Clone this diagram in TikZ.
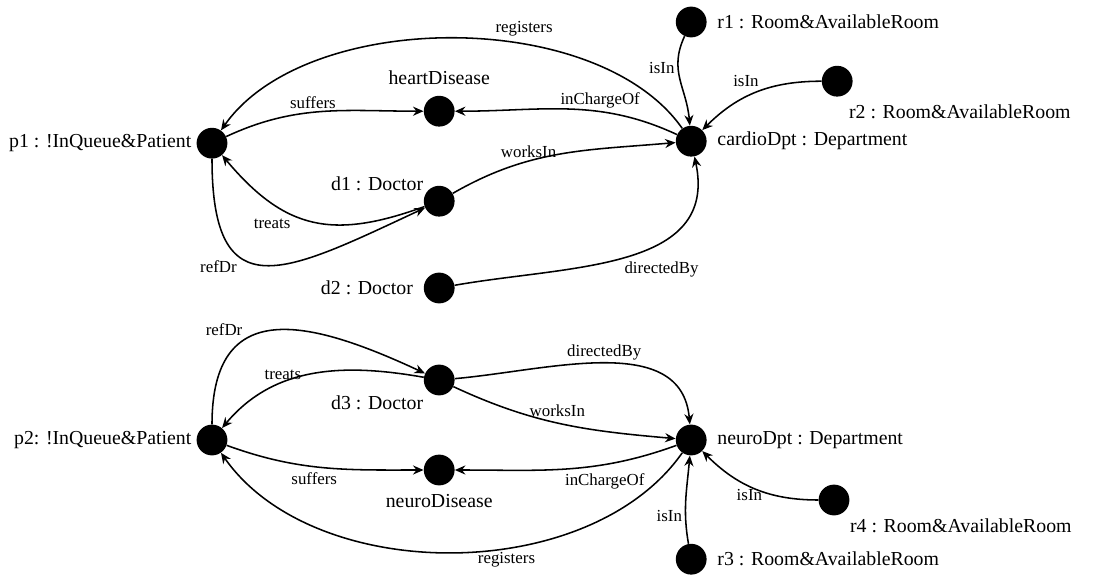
\documentclass[tikz,border=0pt]{standalone}
\usepackage{fontspec}
\setmainfont{Liberation Serif}
\usetikzlibrary{arrows.meta, positioning}

\begin{document}
\begin{tikzpicture}[
    every node/.style={font=\fontsize{14.1}{17}\selectfont},
    obj/.style={circle, fill=black, minimum size=0.77cm, inner sep=0pt},
    arr/.style={-{Stealth[length=7.5pt, width=6.5pt, inset=2.5pt]}, line width=1.1pt},
    arrlbl/.style={font=\fontsize{12}{14}\selectfont, inner sep=2pt}
]
\useasboundingbox (0,0) rectangle (27.5,-14.375);

% cardiology instance
\node[obj, label=left:{p1 : !InQueue\&Patient}] (p1) at (5.30, -3.58) {};
\node[obj, label={[label distance=4pt]above:heartDisease}] (heart) at (10.98, -2.78) {};
\node[obj, label={[yshift=-4pt]above left:d1 : Doctor}] (d1) at (10.98, -5.03) {};
\node[obj, label={[label distance=4pt]left:d2 : Doctor}] (d2) at (10.98, -7.20) {};
\node[obj, label={[label distance=4pt]right:cardioDpt : Department}] (cardio) at (17.28, -3.53) {};
\node[obj, label={[label distance=4pt]right:r1 : Room\&AvailableRoom}] (r1) at (17.28, -0.55) {};
\node[obj, label={[xshift=-3pt, yshift=-5pt]below right:r2 : Room\&AvailableRoom}] (r2) at (20.93, -2.03) {};

\draw[arr] (cardio) to[out=125, in=55, looseness=0.82] node[arrlbl, above, pos=0.37, yshift=3pt] {registers} (p1);
\draw[arr] (p1) to[out=25, in=180] node[arrlbl, above, pos=0.45] {suffers} (heart);
\draw[arr] (cardio) to[out=155, in=0] node[arrlbl, above, pos=0.35] {inChargeOf} (heart);
\draw[arr] (d1) to[out=30, in=185] node[arrlbl, above, pos=0.35] {worksIn} (cardio);
\draw[arr] (d1) to[out=200, in=-50, looseness=1.2] node[arrlbl, below left, pos=0.6] {treats} (p1);
\draw[arr] (p1) to[out=-90, in=205, looseness=1.8] node[arrlbl, below left, pos=0.36] {refDr} (d1);
\draw[arr] (d2) to[out=10, in=-78, looseness=1.1] node[arrlbl, below right, pos=0.48] {directedBy} (cardio);
\draw[arr] (r1) to[out=-115, in=95, looseness=1.1] node[arrlbl, left, pos=0.35] {isIn} (cardio);
\draw[arr] (r2) to[out=180, in=45] node[arrlbl, above left, pos=0.45] {isIn} (cardio);

% neurology instance
\node[obj, label=left:{p2: !InQueue\&Patient}] (p2) at (5.30, -11.00) {};
\node[obj, label=below left:d3 : Doctor] (d3) at (10.98, -9.50) {};
\node[obj, label={[label distance=3pt]below:neuroDisease}] (neurodis) at (10.98, -11.75) {};
\node[obj, label={[label distance=4pt]right:neuroDpt : Department}] (neuro) at (17.28, -11.00) {};
\node[obj, label={[label distance=4pt]right:r3 : Room\&AvailableRoom}] (r3) at (17.28, -13.98) {};
\node[obj, label={[yshift=-2pt]below right:r4 : Room\&AvailableRoom}] (r4) at (20.85, -12.50) {};

\draw[arr] (p2) to[out=90, in=155, looseness=1.5] node[arrlbl, above left, pos=0.36] {refDr} (d3);
\draw[arr] (d3) to[out=170, in=50] node[arrlbl, above, pos=0.65] {treats} (p2);
\draw[arr] (d3) to[out=5, in=95] node[arrlbl, above, pos=0.5] {directedBy} (neuro);
\draw[arr] (d3) to[out=-25, in=175] node[arrlbl, above, pos=0.48, yshift=2pt] {worksIn} (neuro);
\draw[arr] (p2) to[out=-20, in=180] node[arrlbl, below, pos=0.45, yshift=-2pt] {suffers} (neurodis);
\draw[arr] (neuro) to[out=200, in=0] node[arrlbl, below, pos=0.32, yshift=-4pt] {inChargeOf} (neurodis);
\draw[arr] (neuro) to[out=-125, in=-55, looseness=0.9] node[arrlbl, below, pos=0.4] {registers} (p2);
\draw[arr] (r3) to[out=100, in=-95] node[arrlbl, left, pos=0.3] {isIn} (neuro);
\draw[arr] (r4) to[out=180, in=-45] node[arrlbl, below, pos=0.55] {isIn} (neuro);

\end{tikzpicture}
\end{document}
